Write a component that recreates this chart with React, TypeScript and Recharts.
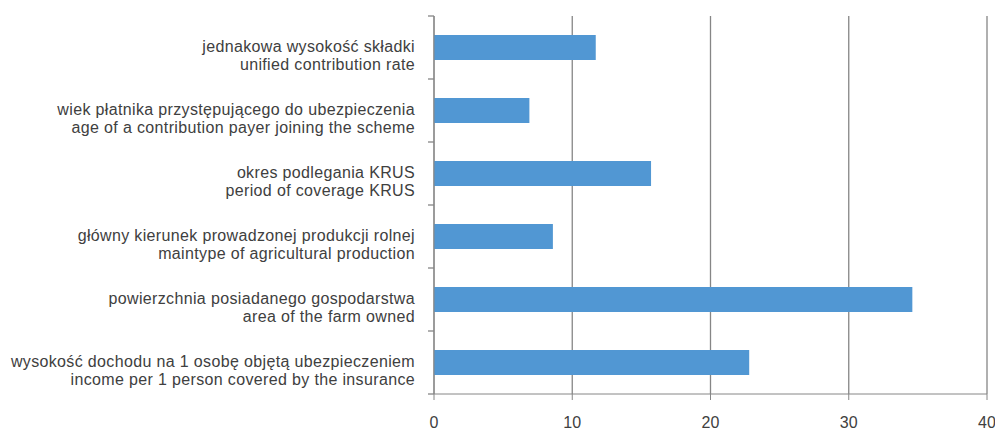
import { BarChart, Bar, XAxis, YAxis, CartesianGrid } from 'recharts'

const labelsPl = [
  'jednakowa wysokość składki',
  'wiek płatnika przystępującego do ubezpieczenia',
  'okres podlegania KRUS',
  'główny kierunek prowadzonej produkcji rolnej',
  'powierzchnia posiadanego gospodarstwa',
  'wysokość dochodu na 1 osobę objętą ubezpieczeniem',
]

const labelsEn = [
  'unified contribution rate',
  'age of a contribution payer joining the scheme',
  'period of coverage KRUS',
  'maintype of agricultural production',
  'area of the farm owned',
  'income per 1 person covered by the insurance',
]

const values = [11.7, 6.9, 15.7, 8.6, 34.6, 22.8]

const xTicks = [0, 10, 20, 30, 40]

const data = labelsPl.map((pl, i) => ({ key: `c${i}`, pl, en: labelsEn[i], value: values[i] }))

const WIDTH = 995
const HEIGHT = 430
const MARGIN = { top: 16, right: 8, bottom: 0, left: 0 }
const X_AXIS_H = 36
const BAND = (HEIGHT - MARGIN.top - X_AXIS_H) / data.length

const AXIS_COLOR = '#868686'
const TEXT_COLOR = '#404040'
const FONT = '"Liberation Sans", Arial, sans-serif'

// two-line label plus the boundary tick marks Excel draws between categories
function CategoryTick(props: any) {
  const { x, y, index } = props
  const row = data[index]
  const ax = x + 19
  return (
    <g>
      <line x1={ax - 6} x2={ax} y1={y - BAND / 2} y2={y - BAND / 2} stroke={AXIS_COLOR} strokeWidth={1.3} />
      {index === data.length - 1 && (
        <line x1={ax - 6} x2={ax} y1={y + BAND / 2} y2={y + BAND / 2} stroke={AXIS_COLOR} strokeWidth={1.3} />
      )}
      <text x={x} y={y + 4.5} textAnchor="end" fill={TEXT_COLOR} fontSize={16} letterSpacing={0.35} fontFamily={FONT}>
        {row.pl}
      </text>
      <text x={x} y={y + 22} textAnchor="end" fill={TEXT_COLOR} fontSize={16} letterSpacing={0.35} fontFamily={FONT}>
        {row.en}
      </text>
    </g>
  )
}

function NumberTick(props: any) {
  const { x, payload } = props
  return (
    <text x={x} y={428} textAnchor="middle" fill={TEXT_COLOR} fontSize={16} fontFamily={FONT}>
      {payload.value}
    </text>
  )
}

export default function App() {
  return (
    <div
      style={{
        position: 'absolute',
        left: 0,
        top: 0,
        width: WIDTH,
        height: HEIGHT,
        overflow: 'hidden',
        background: '#fff',
      }}
    >
      <BarChart width={WIDTH} height={HEIGHT} data={data} layout="vertical" margin={MARGIN}>
        <CartesianGrid horizontal={false} stroke={AXIS_COLOR} strokeWidth={1.3} />
        <XAxis
          type="number"
          domain={[0, 40]}
          ticks={xTicks}
          height={X_AXIS_H}
          stroke={AXIS_COLOR}
          tickSize={6}
          tick={<NumberTick />}
        />
        <YAxis
          type="category"
          dataKey="key"
          width={434}
          stroke={AXIS_COLOR}
          tickLine={false}
          tickSize={6}
          tickMargin={13}
          tick={<CategoryTick />}
          interval={0}
        />
        <Bar dataKey="value" fill="#5197d3" barSize={25} isAnimationActive={false} />
      </BarChart>
    </div>
  )
}
